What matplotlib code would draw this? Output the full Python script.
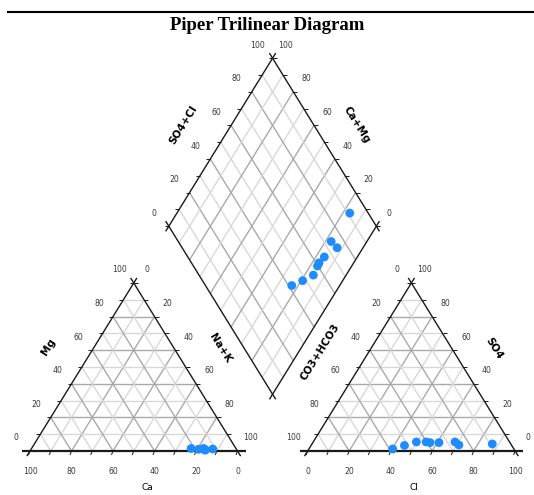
import numpy as np
import matplotlib
matplotlib.use("Agg")
import matplotlib.pyplot as plt

# cations, % of meq
ca = [21.6, 18.3, 15.3, 15.5, 15.5, 15.1, 15.7, 11.3, 15.7]
mg = [1.5, 1.0, 0.5, 1.0, 1.2, 0.8, 1.5, 1.2, 1.0]
nak = [76.9, 80.7, 84.2, 83.5, 83.3, 84.1, 82.8, 87.5, 83.3]

# anions, % of meq
cl = [40.4, 45.0, 49.7, 54.4, 56.5, 60.8, 68.3, 71.1, 86.9]
so4 = [1.2, 3.3, 5.4, 5.4, 5.0, 5.0, 5.4, 3.6, 4.2]
hco3 = [58.4, 51.7, 44.9, 40.2, 38.5, 34.2, 26.3, 25.3, 8.9]

tick_vals = [0, 20, 40, 60, 80, 100]
up_labels = [str(v) for v in tick_vals]
down_labels = up_labels[::-1]

H = np.sqrt(3) / 2
GAP = 0.338
X0 = 1 + GAP
B = np.array([1 + GAP / 2, GAP / 2 * np.sqrt(3)])
U = np.array([0.5, H])     # diamond direction up-right
V = np.array([-0.5, H])    # diamond direction up-left

# pixel -> data scale (figure is 534x495 px)
SX, SY = 207.5, 194.0
PX, PY = 1 / SX, 1 / SY

fig = plt.figure(figsize=(5.34, 4.95), dpi=100)
ax = fig.add_axes([0, 0, 1, 1])
ax.set_xlim(-30 * PX, 504 * PX)
ax.set_ylim(-44 * PY, 451 * PY)
ax.axis("off")

MAJ, MIN = "#a9a9a9", "#d8d8d8"
EDGE = "#1a1a1a"
POINT = "#1e8cff"
TCOL = "#3a3a3a"
tfont = dict(fontsize=5.6, color=TCOL, ha="center", va="center")
lfont = dict(fontsize=7.5, fontweight="bold", ha="center", va="center")


def seg(p, q, **kw):
    ax.plot([p[0], q[0]], [p[1], q[1]], solid_capstyle="butt", **kw)


def edge(p, q, ext=6, lw=1.0):
    p, q = np.asarray(p, float), np.asarray(q, float)
    d = q - p
    e = ext / np.hypot(d[0] * SX, d[1] * SY) * d
    seg(p - e, q + e, color=EDGE, lw=lw, zorder=3)


def tick(p, dx, dy):
    seg(p, (p[0] + dx * PX, p[1] + dy * PY), color=EDGE, lw=0.7, zorder=3)


def label(p, dx, dy, s):
    ax.text(p[0] + dx * PX, p[1] + dy * PY, s, **tfont)


def triangle(x0, left_lab, right_lab, bottom_lab):
    for k in range(1, 10):
        f = k / 10
        kw = dict(color=MAJ if k % 2 == 0 else MIN, lw=1.0, zorder=1)
        seg((x0 + f / 2, f * H), (x0 + 1 - f / 2, f * H), **kw)
        seg((x0 + f, 0), (x0 + f + (1 - f) / 2, (1 - f) * H), **kw)
        seg((x0 + f, 0), (x0 + f / 2, f * H), **kw)
    edge((x0, 0), (x0 + 0.5, H))
    edge((x0 + 0.5, H), (x0 + 1, 0))
    edge((x0, 0), (x0 + 1, 0), ext=8, lw=1.6)
    for k in range(11):
        t = k / 10
        tick((x0 + t / 2, t * H), -4, 0)
        tick((x0 + 0.5 + t / 2, (1 - t) * H), 4, 0)
        tick((x0 + t, 0), -1.5, -4)
    for i, v in enumerate(tick_vals):
        t = v / 100
        label((x0 + t / 2, t * H), -14, 13, left_lab[i])
        label((x0 + 0.5 + t / 2, (1 - t) * H), 13, 13, right_lab[i])
        label((x0 + t, 0), 0, -20, bottom_lab[i])


# left (cation) triangle: Mg up the left edge, Na+K down the right, Ca right-to-left
triangle(0, up_labels, up_labels, down_labels)
# right (anion) triangle: CO3+HCO3 down the left edge, SO4 up the right, Cl left-to-right
triangle(X0, down_labels, down_labels, up_labels)

# diamond
L, R, T = B + V, B + U, B + U + V
for k in range(1, 10):
    f = k / 10
    c = MAJ if k % 2 == 0 else MIN
    seg(B + f * U, B + f * U + V, color=c, lw=1.0, zorder=1)
    seg(B + f * V, B + f * V + U, color=c, lw=1.0, zorder=1)
edge(B, L)
edge(B, R)
edge(L, T)
edge(R, T)
for k in range(11):
    t = k / 10
    tick(L + t * U, -4, 0)
    tick(R + t * V, 4, 0)
for v in tick_vals:
    t = v / 100
    label(L + t * U, -15, 13, str(v))
    label(R + t * V, 13, 13, str(v))

# data points
ca_a, mg_a, na_a = np.array(ca), np.array(mg), np.array(nak)
cl_a, so_a = np.array(cl), np.array(so4)
ax.scatter(na_a / 100 + mg_a / 200, mg_a / 100 * H, s=40, color=POINT,
           edgecolors="none", zorder=4)
ax.scatter(X0 + cl_a / 100 + so_a / 200, so_a / 100 * H, s=40, color=POINT,
           edgecolors="none", zorder=4)
s_an = (cl_a + so_a) / 100
c_cat = (ca_a + mg_a) / 100
dpts = B + np.outer(s_an, U) + np.outer(c_cat, V)
ax.scatter(dpts[:, 0], dpts[:, 1], s=40, color=POINT, edgecolors="none", zorder=4)

# axis names
ROT = 58
ax.text(18 * PX, 104 * PY, "Mg", rotation=ROT, **lfont)
ax.text(190 * PX, 103 * PY, "Na+K", rotation=-ROT, **lfont)
ax.text(117 * PX, -36 * PY, "Ca", fontsize=6.5, ha="center", va="center")
ax.text(290 * PX, 99 * PY, "CO3+HCO3", rotation=ROT, **lfont)
ax.text(464 * PX, 103 * PY, "SO4", rotation=-ROT, **lfont)
ax.text(384 * PX, -36 * PY, "Cl", fontsize=6.5, ha="center", va="center")
ax.text(153 * PX, 326 * PY, "SO4+Cl", rotation=ROT, **lfont)
ax.text(327 * PX, 326 * PY, "Ca+Mg", rotation=-ROT, **lfont)

# header
fig.add_artist(plt.Line2D([8 / 534, 1], [1 - 12 / 495] * 2, color="k", lw=1.5))
fig.text(267 / 534, 1 - 25 / 495, "Piper Trilinear Diagram", family="Liberation Serif",
         fontweight="bold", fontsize=13.5, ha="center", va="center")

fig.savefig("out.png", dpi=100)
